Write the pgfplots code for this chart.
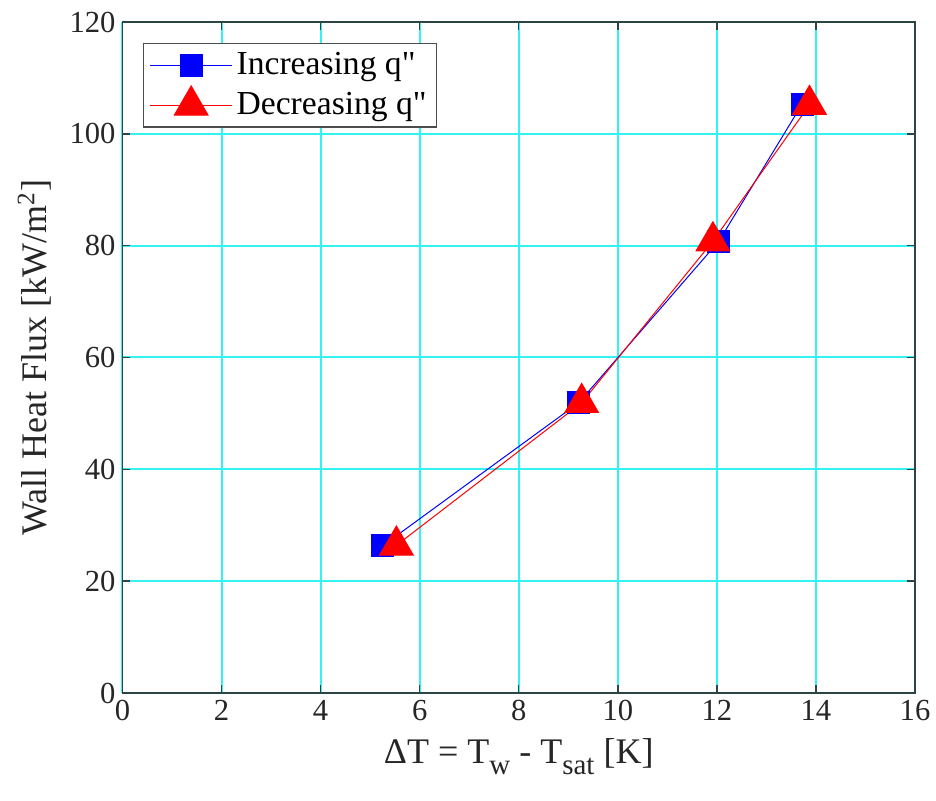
\documentclass[border=0pt]{standalone}
\usepackage{pgfplots}
\pgfplotsset{compat=1.18}
\usepackage{fontspec}
\setmainfont{Liberation Serif}
\newfontfamily\plainquote{Liberation Serif}
\definecolor{gridc}{rgb}{0.2,0.95,0.95}
\definecolor{axc}{rgb}{0.17,0.27,0.27}
\definecolor{tlc}{rgb}{0.15,0.15,0.15}
\newcommand{\sub}[1]{\raisebox{-5.5pt}{\fontsize{14.5}{15}\selectfont #1}}
\begin{document}
\begin{tikzpicture}
\begin{axis}[name=ax,
  scale only axis, width=396.25pt, height=335.5pt,
  xmin=0, xmax=16, ymin=0, ymax=120,
  xtick={0,2,...,16}, ytick={0,20,...,120},
  xticklabels={0,2,4,6,8,10,12,14,16},
  yticklabels={0,20,40,60,80,100,120},
  grid=major,
  major grid style={color=gridc, line width=1pt},
  axis line style={axc, line width=0.7pt},
  tick style={axc, line width=0.7pt},
  tick align=inside, major tick length=4pt,
  tick label style={font=\rmfamily\fontsize{15.3}{18}\selectfont, text=tlc},
  label style={font=\rmfamily\fontsize{18}{21}\selectfont, text=tlc},
  xlabel={ΔT = T\sub{w} - T\sub{sat} [K]},
  ylabel={Wall Heat Flux [kW/m\textsuperscript{2}]},
  xlabel style={yshift=-2pt},
  ylabel style={yshift=2pt},
  legend style={at={(rel axis cs:0,1)}, anchor=north west, xshift=10.25pt, yshift=-10.5pt,
    font=\rmfamily\fontsize{16.8}{20}\selectfont, draw=black!70, line width=0.7pt,
    row sep=2pt, inner xsep=3pt, inner ysep=2.5pt},
  legend cell align=left,
  legend image code/.code={
    \draw[line width=0.5pt, mark repeat=2, mark phase=2] plot coordinates {(0cm,0cm) (0.72cm,0cm) (1.44cm,0cm)};},
]
\addplot[blue, line width=0.5pt, mark=square*, mark size=5.5pt, mark options={fill=blue, draw=blue}]
  coordinates {(5.25,26.3) (9.21,51.9) (12.04,80.8) (13.72,105.3)};
\addlegendentry{Increasing q{\plainquote "}}
\addplot[red, line width=0.5pt, mark=triangle*, mark size=9.7pt, mark options={fill=red, draw=red}]
  coordinates {(5.53,26.4) (9.27,51.9) (11.92,80.8) (13.87,105.2)};
\addlegendentry{Decreasing q{\plainquote "}}
\end{axis}
\pgfresetboundingbox
\path ([xshift=-61.25pt,yshift=-54pt]ax.south west) rectangle ([xshift=10.5pt,yshift=11pt]ax.north east);
\end{tikzpicture}
\end{document}
